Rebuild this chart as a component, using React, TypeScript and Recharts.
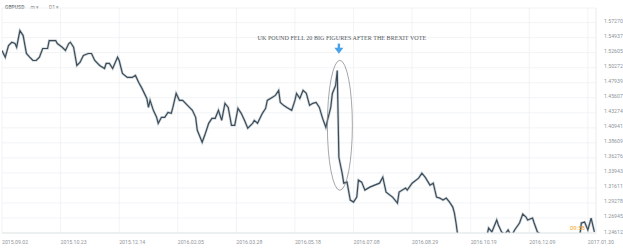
import React from 'react';
import {
    LineChart,
    Line,
    XAxis,
    YAxis,
    CartesianGrid,
    ReferenceDot,
} from 'recharts';

// trading-day index since 2015.09.02 and the daily close
const days = [
    0, 2, 4, 6, 8, 9, 11, 13, 15, 17, 19, 21, 23, 25, 28, 29, 33, 34, 37, 39,
    41, 42, 44, 46, 48, 50, 53, 55, 57, 60, 63, 64, 66, 68, 71, 72, 74, 77, 80, 82,
    84, 86, 89, 90, 91, 93, 95, 96, 98, 100, 102, 104, 105, 107, 109, 111, 114, 117, 119, 120,
    122, 123, 125, 127, 129, 131, 133, 135, 137, 139, 141, 143, 145, 147, 149, 151, 154, 155, 157, 160,
    162, 163, 166, 168, 170, 171, 173, 175, 178, 180, 181, 183, 185, 187, 189, 191, 193, 195, 197, 199,
    200, 202, 203, 205, 206, 207, 209, 210, 212, 214, 216, 218, 219, 221, 223, 226, 229, 232, 234, 236,
    240, 243, 244, 248, 249, 252, 256, 258, 260, 263, 265, 267, 269, 271, 273, 275, 277, 278, 279, 280,
    283, 286, 289, 292, 295, 297, 299, 301, 304, 305, 307, 309, 311, 313, 315, 318, 320, 322, 323, 326,
    327, 329, 330, 333, 336, 339, 342, 345, 348, 351, 355, 356, 358, 360, 362, 364,
];

const closes = [
    1.5294, 1.5190, 1.5371, 1.5422, 1.5402, 1.5345, 1.5603, 1.5526, 1.5248, 1.5190, 1.5139, 1.5139, 1.5190, 1.5325, 1.5325, 1.5449, 1.5449, 1.5402, 1.5345, 1.5294,
    1.5402, 1.5422, 1.5345, 1.5062, 1.5113, 1.5216, 1.5248, 1.5248, 1.5139, 1.5062, 1.5015, 1.5093, 1.5093, 1.5015, 1.5190, 1.5139, 1.4938, 1.4876, 1.4876, 1.4907,
    1.4798, 1.4706, 1.4551, 1.4411, 1.4520, 1.4365, 1.4257, 1.4164, 1.4257, 1.4257, 1.4334, 1.4319, 1.4411, 1.4628, 1.4520, 1.4520, 1.4443, 1.4365, 1.4257, 1.4056,
    1.3932, 1.3870, 1.4009, 1.4164, 1.4241, 1.4241, 1.4365, 1.4210, 1.4474, 1.4411, 1.4133, 1.4133, 1.4396, 1.4319, 1.4210, 1.4087, 1.4164, 1.4210, 1.4164, 1.4319,
    1.4396, 1.4520, 1.4566, 1.4597, 1.4675, 1.4489, 1.4443, 1.4411, 1.4365, 1.4520, 1.4628, 1.4551, 1.4675, 1.4628, 1.4443, 1.4474, 1.4489, 1.4411, 1.4241, 1.4102,
    1.4210, 1.4411, 1.4628, 1.4752, 1.4984, 1.3637, 1.3390, 1.3235, 1.3251, 1.2972, 1.2941, 1.3018, 1.3282, 1.3251, 1.3127, 1.3173, 1.3204, 1.3235, 1.3328, 1.3096,
    1.3018, 1.2925, 1.3096, 1.3158, 1.3127, 1.3235, 1.3312, 1.3390, 1.3328, 1.3204, 1.3235, 1.3018, 1.3003, 1.2972, 1.3003, 1.2941, 1.2863, 1.2771, 1.2616, 1.2430,
    1.2280, 1.2150, 1.2330, 1.2250, 1.2200, 1.2300, 1.2539, 1.2477, 1.2662, 1.2585, 1.2477, 1.2440, 1.2508, 1.2410, 1.2508, 1.2616, 1.2755, 1.2709, 1.2662, 1.2693,
    1.2616, 1.2477, 1.2461, 1.2400, 1.2300, 1.2250, 1.2280, 1.2200, 1.2150, 1.2250, 1.2400, 1.2616, 1.2631, 1.2508, 1.2693, 1.2477,
];

const dateTicks = [0, 36, 72, 108, 144, 180, 216, 252, 288, 324, 360];
const dateLabels = [
    '2015.09.02', '2015.10.23', '2015.12.14', '2016.02.05', '2016.03.28', '2016.05.18',
    '2016.07.08', '2016.08.29', '2016.10.19', '2016.12.09', '2017.01.30',
];

const priceTicks = [
    1.24612, 1.26945, 1.29278, 1.31611, 1.33943, 1.36276, 1.38609, 1.40941,
    1.43274, 1.45607, 1.47939, 1.50272, 1.52605, 1.54937, 1.57270,
];

const voteDay = 207;
const note = 'UK POUND FELL 20 BIG FIGURES AFTER THE BREXIT VOTE';

const data = days.map((d, i) => ({ day: d, close: closes[i] }));

const axisFont = { fontFamily: 'Roboto, sans-serif', fill: '#90959a' };

const DateTick = (props: any) => {
    const { x, y, payload } = props;
    const i = dateTicks.indexOf(payload.value);
    return (
        <text x={x} y={y} dy={3} textAnchor="start" fontSize={5.2} {...axisFont}>
            {dateLabels[i]}
        </text>
    );
};

const PriceTick = (props: any) => {
    const { x, y, payload } = props;
    return (
        <text x={x} y={y} dy={0.5} textAnchor="start" fontSize={5.2} {...axisFont}>
            {payload.value.toFixed(5)}
        </text>
    );
};

// ellipse drawn around the referendum crash
const Ring = (props: any) => {
    const { cx, cy } = props;
    if (cx == null || cy == null) return null;
    return <ellipse cx={cx + 1} cy={cy} rx={12.5} ry={65} fill="none" stroke="#7d8084" strokeWidth={0.7} />;
};

const Note = (props: any) => {
    const { cx, cy } = props;
    if (cx == null || cy == null) return null;
    return (
        <g>
            <text
                x={cx + 3}
                y={cy}
                dy={2}
                textAnchor="middle"
                fontFamily="'Liberation Serif', serif"
                fontSize={6.1}
                fill="#555a60"
            >
                {note}
            </text>
            <rect x={cx - 1.2} y={cy + 6} width={2.4} height={5.5} fill="#4aa3ea" />
            <path d={`M ${cx - 4.5} ${cy + 10} L ${cx + 4.5} ${cy + 10} L ${cx} ${cy + 16} Z`} fill="#4aa3ea" />
        </g>
    );
};

export default function App() {
    return (
        <div style={{ position: 'absolute', left: 0, top: 0, width: 623, height: 250, background: '#fff' }}>
            <div
                style={{
                    position: 'absolute',
                    left: 5,
                    top: 4,
                    fontFamily: 'Roboto, sans-serif',
                    fontSize: 5,
                    color: '#7a7f84',
                    whiteSpace: 'nowrap',
                }}
            >
                <span style={{ fontWeight: 700 }}>GBPUSD</span>
                <span style={{ marginLeft: 6 }}>m ▾</span>
                <span style={{ marginLeft: 10 }}>D1 ▾</span>
            </div>
            <LineChart
                width={623}
                height={250}
                data={data}
                margin={{ top: 8, right: 0, left: 2, bottom: 0 }}
            >
                <CartesianGrid stroke="#eef0f2" strokeWidth={0.8} />
                <XAxis
                    dataKey="day"
                    type="number"
                    domain={[0, 365]}
                    ticks={dateTicks}
                    interval={0}
                    height={17}
                    axisLine={{ stroke: '#e3e6e8' }}
                    tickLine={false}
                    tick={<DateTick />}
                    allowDataOverflow
                />
                <YAxis
                    orientation="right"
                    type="number"
                    domain={[1.24612, 1.5954]}
                    ticks={priceTicks}
                    interval={0}
                    width={27}
                    axisLine={{ stroke: '#eef0f2' }}
                    tickLine={false}
                    tick={<PriceTick />}
                    allowDataOverflow
                />
                <Line
                    dataKey="close"
                    type="linear"
                    stroke="#a7b2ba"
                    strokeWidth={2.6}
                    strokeOpacity={0.55}
                    dot={false}
                    isAnimationActive={false}
                />
                <Line
                    dataKey="close"
                    type="linear"
                    stroke="#3b4d5a"
                    strokeWidth={1.2}
                    dot={false}
                    isAnimationActive={false}
                />
                <ReferenceDot x={voteDay} y={1.4133} ifOverflow="visible" shape={<Ring />} />
                <ReferenceDot x={voteDay} y={1.5494} ifOverflow="visible" shape={<Note />} />
            </LineChart>
            <div
                style={{
                    position: 'absolute',
                    left: 570,
                    top: 224,
                    fontFamily: 'Roboto, sans-serif',
                    fontSize: 6,
                    color: '#f5a623',
                }}
            >
                09:58
            </div>
        </div>
    );
}
